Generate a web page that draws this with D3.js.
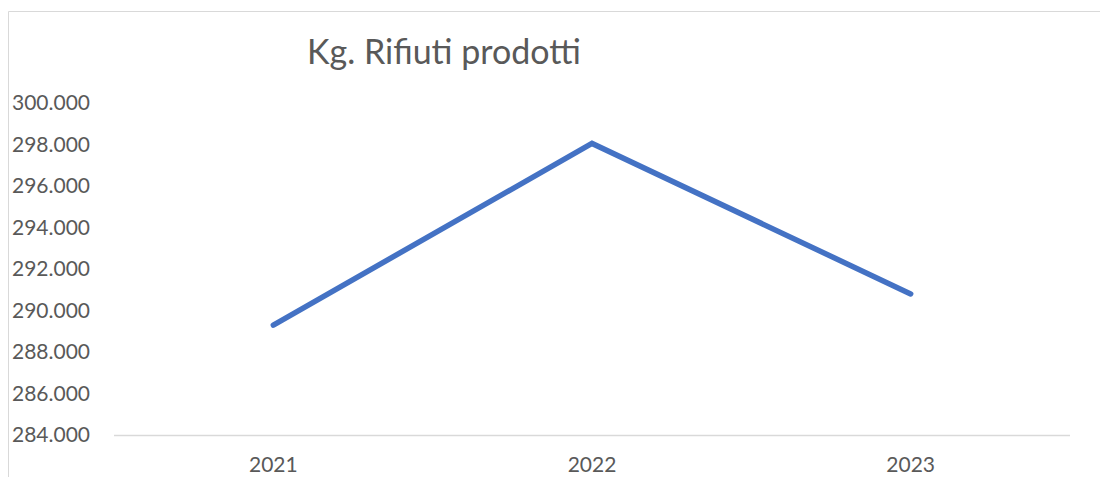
<!DOCTYPE html>
<html>
<head>
<meta charset="utf-8">
<script src="https://cdn.jsdelivr.net/npm/d3@7"></script>
<style>
  body { margin: 0; background: #fff; }
  svg { display: block; font-family: Lato, "Open Sans", sans-serif; }
</style>
</head>
<body>
<div id="chart"></div>
<script>
var years = ["2021", "2022", "2023"];
var kgRifiuti = [289300, 298050, 290800];
var yTicks = [284000, 286000, 288000, 290000, 292000, 294000, 296000, 298000, 300000];
var chartTitle = "Kg. Rifiuti prodotti";

var width = 1100,
    height = 477;

var it = d3.formatLocale({decimal: ",", thousands: ".", grouping: [3], currency: ["€", ""]});
var fmt = it.format(",.0f");

var svg = d3.select("#chart").append("svg")
    .attr("width", width)
    .attr("height", height);

// outer chart frame (only top and left visible)
svg.append("path")
    .attr("d", "M8.5," + height + "V11.5H" + width)
    .attr("fill", "none")
    .attr("stroke", "#d9d9d9")
    .attr("stroke-width", 1);

var x = d3.scaleBand()
    .domain(years)
    .range([114, 1070]);

var y = d3.scaleLinear()
    .domain([284000, 300000])
    .range([435, 103]);

// title
svg.append("text")
    .attr("x", 444)
    .attr("y", 64)
    .attr("text-anchor", "middle")
    .attr("font-size", "34px")
    .attr("fill", "#595959")
    .text(chartTitle);

// y axis labels
var yAxis = svg.append("g")
    .attr("transform", "translate(12,0)")
    .call(d3.axisLeft(y).tickValues(yTicks).tickSize(0).tickPadding(0).tickFormat(fmt));
yAxis.select(".domain").remove();
yAxis.selectAll("text")
    .attr("text-anchor", "start")
    .attr("font-family", "Lato, 'Open Sans', sans-serif")
    .attr("font-size", "21px")
    .attr("fill", "#595959");

// baseline
svg.append("line")
    .attr("x1", x.range()[0])
    .attr("x2", x.range()[1])
    .attr("y1", y(284000) + 0.5)
    .attr("y2", y(284000) + 0.5)
    .attr("stroke", "#d9d9d9")
    .attr("stroke-width", 1.5);

// x axis labels
var xAxis = svg.append("g")
    .attr("transform", "translate(0," + y(284000) + ")")
    .call(d3.axisBottom(x).tickSize(0).tickPadding(22));
xAxis.select(".domain").remove();
xAxis.selectAll("text")
    .attr("font-family", "Lato, 'Open Sans', sans-serif")
    .attr("font-size", "21px")
    .attr("fill", "#595959");

// line
var line = d3.line()
    .x(function(d, i) { return x(years[i]) + x.bandwidth() / 2; })
    .y(function(d) { return y(d); });

svg.append("path")
    .datum(kgRifiuti)
    .attr("d", line)
    .attr("fill", "none")
    .attr("stroke", "#4472c4")
    .attr("stroke-width", 5.5)
    .attr("stroke-linecap", "round")
    .attr("stroke-linejoin", "miter");
</script>
</body>
</html>
